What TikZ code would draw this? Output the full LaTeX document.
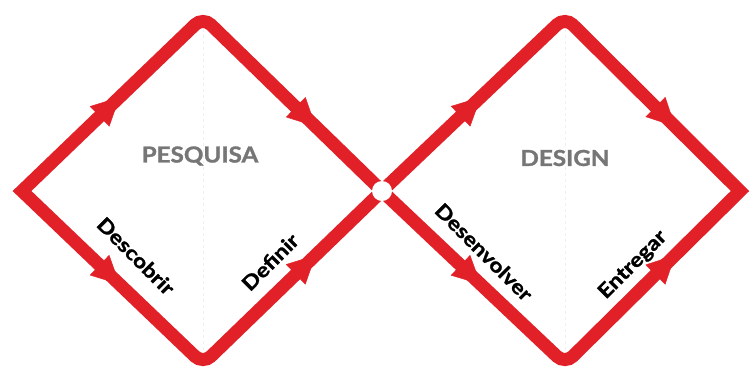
\documentclass[tikz,border=0pt]{standalone}
\usepackage{fontspec}
\newfontfamily\latoP{Lato}[FakeStretch=1.10,FakeBold=1.2]
\newfontfamily\latoS{Lato}[FakeStretch=1.15,FakeBold=1.4]
\usetikzlibrary{arrows.meta,decorations.markings}
\definecolor{dred}{RGB}{226,32,39}
\definecolor{tgray}{RGB}{118,118,118}
\tikzset{
  outline/.style={draw=dred, line width=13pt, line join=miter},
  flowarrow/.style={color=dred, postaction={decorate},
    decoration={markings, mark=at position #1 with {\arrow{Triangle[length=28pt,width=28pt]}}}},
  phase/.style={font=\latoP\bfseries\fontsize{22}{22}\selectfont, text=tgray, inner sep=0pt},
  stagelabel/.style={font=\latoS\bfseries\fontsize{20}{20}\selectfont, text=black, inner sep=0pt},
  guide/.style={draw=black!6, line width=0.8pt, dashed},
  gapdot/.style={circle, fill=white, minimum size=20pt, inner sep=0pt},
}
\begin{document}
\begin{tikzpicture}[x=1pt,y=-1pt]
\useasboundingbox (0,0) rectangle (749,376);
\fill[white] (0,0) rectangle (749,376);
\coordinate (L) at (22,191);
\coordinate (T1) at (203,17);
\coordinate (B1) at (203,364);
\coordinate (X) at (382,191);
\coordinate (T2) at (565,17);
\coordinate (B2) at (565,364);
\coordinate (R) at (740,191);
% faint guides
\draw[guide] (T1) -- (B1);
\draw[guide] (T2) -- (B2);
% outlines
\draw[outline] (X) [rounded corners=11pt] -- (T1) [sharp corners] -- (L) [rounded corners=11pt] -- (B1) [sharp corners] -- (X);
\draw[outline] (X) [rounded corners=11pt] -- (T2) [sharp corners] -- (R) [rounded corners=11pt] -- (B2) [sharp corners] -- (X);
% crossing gap
\node[gapdot] (gap) at (X) {};
% arrows
\path[flowarrow=0.54] (L) -- (T1);
\path[flowarrow=0.63] (T1) -- (X);
\path[flowarrow=0.54] (L) -- (B1);
\path[flowarrow=0.63] (B1) -- (X);
\path[flowarrow=0.54] (X) -- (T2);
\path[flowarrow=0.63] (T2) -- (R);
\path[flowarrow=0.54] (X) -- (B2);
\path[flowarrow=0.63] (B2) -- (R);
% labels
\node[phase] (pesq) at (200,156) {PESQUISA};
\node[phase] (design) at (565,158) {DESIGN};
\node[stagelabel, rotate=-45] (desc) at (136,256) {Descobrir};
\node[stagelabel, rotate=45] (defi) at (270,262) {Definir};
\node[stagelabel, rotate=-45] (desen) at (484,252) {Desenvolver};
\node[stagelabel, rotate=45] (entr) at (633,265) {Entregar};
\end{tikzpicture}
\end{document}
